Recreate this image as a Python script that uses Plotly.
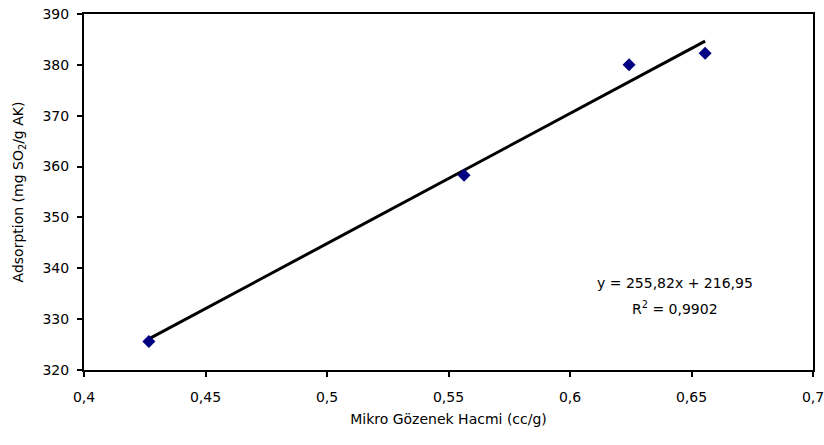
import plotly.graph_objects as go

# Data
micro_pore_volume = [0.4267, 0.5564, 0.6243, 0.6556]
adsorption = [325.6, 358.3, 380.0, 382.3]
slope = 255.82
intercept = 216.95
equation_text = "y = 255,82x + 216,95"
r_squared_text = "R<sup>2</sup> = 0,9902"

x_tick_vals = [0.4, 0.45, 0.5, 0.55, 0.6, 0.65, 0.7]
x_tick_text = ["0,4", "0,45", "0,5", "0,55", "0,6", "0,65", "0,7"]
y_tick_vals = [320, 330, 340, 350, 360, 370, 380, 390]

trend_x = [min(micro_pore_volume), max(micro_pore_volume)]
trend_y = [slope * v + intercept for v in trend_x]

font_family = "DejaVu Sans, Arial, sans-serif"
fs = 14

fig = go.Figure()
fig.add_trace(go.Scatter(
    x=trend_x, y=trend_y, mode="lines",
    line=dict(color="black", width=3), showlegend=False, hoverinfo="skip"))
fig.add_trace(go.Scatter(
    x=micro_pore_volume, y=adsorption, mode="markers",
    marker=dict(symbol="diamond", size=10, color="#000080"),
    showlegend=False))

fig.add_annotation(
    x=0.6432, y=337.1, xref="x", yref="y", text=equation_text,
    showarrow=False, font=dict(family=font_family, size=fs, color="black"))
fig.add_annotation(
    x=0.6432, y=332.2, xref="x", yref="y", text=r_squared_text,
    showarrow=False, font=dict(family=font_family, size=fs, color="black"))

axis_common = dict(
    showline=True, linecolor="black", linewidth=2, mirror=True,
    ticks="outside", ticklen=5, tickcolor="black", tickwidth=2,
    showgrid=False, zeroline=False, ticklabeloverflow="allow",
    tickfont=dict(family=font_family, size=fs, color="black"))

fig.update_xaxes(
    range=[0.4, 0.7], tickvals=x_tick_vals, ticktext=x_tick_text,
    ticklabelstandoff=8,
    title=dict(text="Mikro Gözenek Hacmi (cc/g)", standoff=10,
               font=dict(family=font_family, size=fs, color="black")),
    **axis_common)
fig.update_yaxes(
    range=[320, 390], tickvals=y_tick_vals,
    ticklabelstandoff=5,
    title=dict(text="Adsorption (mg SO<sub>2</sub>/g AK)", standoff=16,
               font=dict(family=font_family, size=fs, color="black")),
    **axis_common)

fig.update_layout(
    width=824, height=445,
    margin=dict(l=84, r=11, t=14, b=75, autoexpand=False),
    plot_bgcolor="white", paper_bgcolor="white",
    font=dict(family=font_family, size=fs, color="black"))

fig.write_html("out.html", config={"displayModeBar": False},
               post_script="document.body.style.margin='0';")
